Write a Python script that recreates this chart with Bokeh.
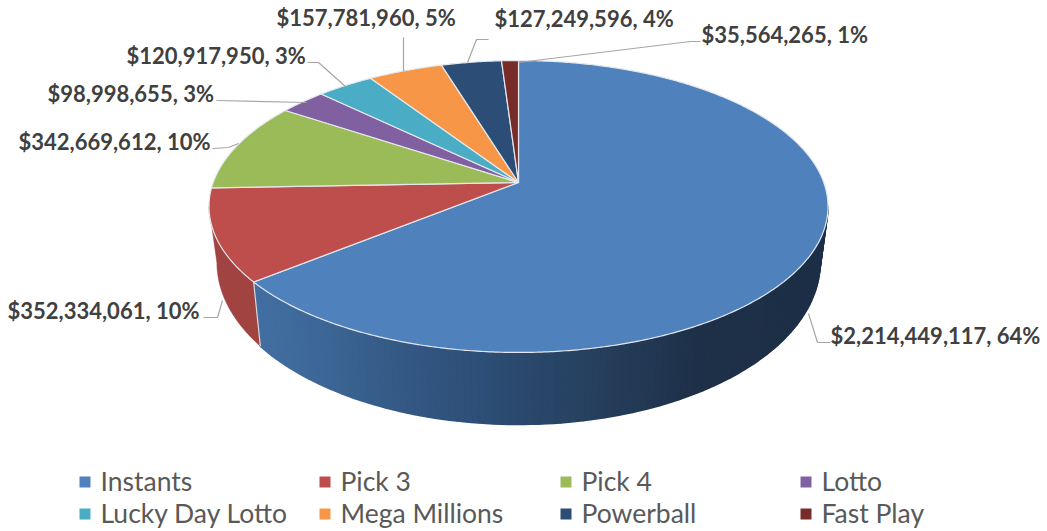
import numpy as np
from bokeh.plotting import figure
from bokeh.models import Range1d
from bokeh.core.properties import value
from bokeh.embed import file_html
from bokeh.resources import INLINE

categories = ["Instants", "Pick 3", "Pick 4", "Lotto", "Lucky Day Lotto", "Mega Millions", "Powerball", "Fast Play"]
sales = [2214449117, 352334061, 342669612, 98998655, 120917950, 157781960, 127249596, 35564265]
percents = [64, 10, 10, 3, 3, 5, 4, 1]
colors = ["#4F81BD", "#BE4E4B", "#9BBB59", "#8060A0", "#4BACC6", "#F79646", "#2C4D75", "#772C2A"]

W, H = 1047, 531
p = figure(width=W, height=H, output_backend="svg", toolbar_location=None,
           x_range=Range1d(0, W), y_range=Range1d(H, 0), min_border=0,
           outline_line_color=None, background_fill_color="white", border_fill_color="white")
p.xaxis.visible = False
p.yaxis.visible = False
p.grid.visible = False

# perspective projection of the pie disc onto the page
CX, C = 518.0, 0.1644


def top(t):
    u, v = np.sin(t), np.cos(t)
    d = C * v + 1
    return CX + 305.3 * u / d, (-112.1 * v + 182.0) / d


def bottom(t):
    u, v = np.sin(t), np.cos(t)
    d = C * v + 1
    return CX + 297.5 * u / d, (-118.9 * v + 235.4) / d


fractions = np.array(sales, dtype=float) / sum(sales)
edges = np.concatenate([[0.0], np.cumsum(fractions)]) * 2 * np.pi
T_RIGHT, T_LEFT = np.radians(99.5), np.radians(260.5)


def mix(x):
    xs = [250, 290, 380, 480, 600, 700, 830]
    rgb = [[66, 110, 162], [63, 107, 156], [54, 92, 136], [45, 78, 118], [38, 62, 92], [30, 48, 72], [29, 47, 71]]
    return "#%02x%02x%02x" % tuple(int(round(np.interp(x, xs, [c[i] for c in rgb]))) for i in range(3))


# side wall of the first slice, shaded from left to right
ts = np.linspace(T_RIGHT, edges[1], 110)
xs_list, ys_list, cols = [], [], []
for a, b in zip(ts[:-1], ts[1:]):
    xa, ya = top(a)
    xb, yb = top(b)
    xc, yc = bottom(b)
    xd, yd = bottom(a)
    xs_list.append([xa, xb, xc, xd])
    ys_list.append([ya, yb, yc, yd])
    cols.append(mix((xa + xb) / 2))
p.patches(xs_list, ys_list, fill_color=cols, line_color=cols, line_width=1.5)

# side wall of the second slice
tr = np.linspace(edges[1], T_LEFT, 40)
xt, yt = top(tr)
xb, yb = bottom(tr[::-1])
p.patch(np.concatenate([xt, xb]), np.concatenate([yt, yb]), fill_color="#A14341", line_color="#A14341", line_width=0.5)

# divider between walls
xd0, yd0 = top(edges[1])
xd1, yd1 = bottom(edges[1])
p.line([xd0, xd1], [yd0, yd1], line_color="#d5dbe2", line_width=1.2)

# top faces
for i, c in enumerate(colors):
    tt = np.linspace(edges[i], edges[i + 1], max(4, int((edges[i + 1] - edges[i]) * 120)))
    x, y = top(tt)
    p.patch(np.concatenate([[CX], x]), np.concatenate([[182.0], y]), fill_color=c,
            line_color="#e4e8ee", line_width=1.2, line_join="round")

# leader lines
leaders = [
    ([808, 817, 830], [313, 342, 342]),
    ([222, 217, 203], [300, 317, 317]),
    ([238, 228, 212], [143, 147, 148]),
    ([306, 216], [102, 100]),
    ([345, 318, 307], [86, 62, 62]),
    ([403, 403], [71, 37]),
    ([467, 476, 488], [62, 39, 39]),
    ([518, 690, 700], [62, 41, 41]),
]
for lx, ly in leaders:
    p.line(lx, ly, line_color="#a6a6a6", line_width=1.2)

# data labels
label_pos = [(830, 335), (7, 310), (18, 141), (47, 93), (126, 55), (276, 17), (494, 18), (701, 34)]
labels = [f"${s:,}, {q}%" for s, q in zip(sales, percents)]
p.text([q[0] for q in label_pos], [q[1] for q in label_pos], text=labels,
       text_font=value("Lato"), text_font_style="bold", text_font_size="22px",
       text_color="#404040", text_align="left", text_baseline="middle")

# legend
col_x = [79, 319, 560, 800]
row_y = [481.5, 513.5]
for i, (name, c) in enumerate(zip(categories, colors)):
    lx = col_x[i % 4]
    ly = row_y[i // 4]
    p.quad(left=[lx], right=[lx + 11], top=[ly - 5.5], bottom=[ly + 5.5], fill_color=c, line_color=None)
    p.text([lx + 21], [ly - 1], text=[name], text_font=value("Lato"), text_font_size="26.5px",
           text_color="#595959", text_align="left", text_baseline="middle")

open("out.html", "w").write(file_html(p, INLINE))
